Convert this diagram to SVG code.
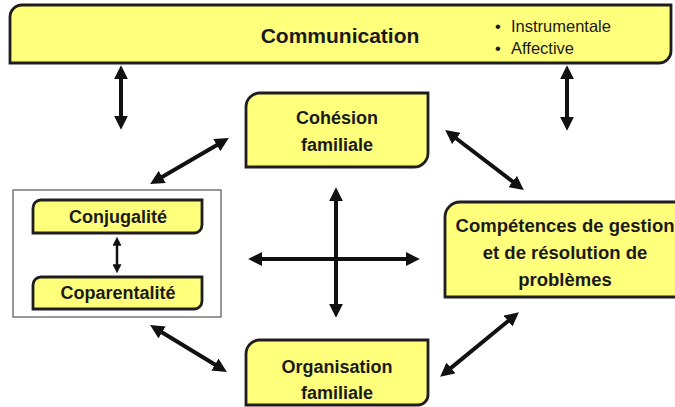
<svg xmlns="http://www.w3.org/2000/svg" width="675" height="407" viewBox="0 0 675 407">
<style>
.box{fill:#ffff7c;stroke:#1e1e1e;stroke-width:2.8}
.t{font-family:"Liberation Sans",Arial,sans-serif;font-weight:bold;fill:#1a1a1a;text-anchor:middle}
.b{font-family:"Liberation Sans",Arial,sans-serif;fill:#1a1a1a;font-size:16.5px}
.c line{stroke:#111;stroke-width:4;marker-start:url(#ah);marker-end:url(#ah)}
.c line.s{stroke-width:2.5;marker-start:url(#ahs);marker-end:url(#ahs)}
</style>
<defs>
<marker id="ah" viewBox="0 0 10 10" refX="3" refY="5" markerUnits="userSpaceOnUse" markerWidth="14" markerHeight="14" orient="auto-start-reverse"><path d="M0,0 L10,5 L0,10 z" fill="#111"/></marker>
<marker id="ahs" viewBox="0 0 10 10" refX="3" refY="5" markerUnits="userSpaceOnUse" markerWidth="9" markerHeight="9" orient="auto-start-reverse"><path d="M0,0 L10,5 L0,10 z" fill="#111"/></marker>
</defs>
<rect width="675" height="407" fill="#fff"/>
<g id="communication">
<path class="box" d="M22,5 H671 V51 A12,12 0 0 1 659,63 H10 V17 A12,12 0 0 1 22,5 Z"/>
<text class="t" x="340" y="43" font-size="21">Communication</text>
<text class="b" x="495" y="32">•</text>
<text class="b" x="511" y="32">Instrumentale</text>
<text class="b" x="495" y="54">•</text>
<text class="b" x="511" y="54">Affective</text>
</g>
<g id="cohesion">
<path class="box" d="M260,93 H428 V153 A14,14 0 0 1 414,167 H246 V107 A14,14 0 0 1 260,93 Z"/>
<text class="t" x="337" y="124" font-size="18">Cohésion</text>
<text class="t" x="337" y="151" font-size="18">familiale</text>
</g>
<g id="couple">
<rect x="13" y="190" width="208" height="127" fill="#fff" stroke="#555" stroke-width="1.2"/>
</g>
<g id="conjugalite">
<path class="box" d="M41,200 H202 V225 A8,8 0 0 1 194,233 H33 V208 A8,8 0 0 1 41,200 Z"/>
<text class="t" x="118" y="223" font-size="18">Conjugalité</text>
</g>
<g id="coparentalite">
<path class="box" d="M41,277 H202 V301 A8,8 0 0 1 194,309 H33 V285 A8,8 0 0 1 41,277 Z"/>
<text class="t" x="118" y="299" font-size="18">Coparentalité</text>
</g>
<g id="competences">
<path class="box" d="M460,202 H680 V297 H445 V217 A15,15 0 0 1 460,202 Z"/>
<text class="t" x="565" y="232" font-size="18.5">Compétences de gestion</text>
<text class="t" x="565" y="259" font-size="18.5">et de résolution de</text>
<text class="t" x="565" y="286" font-size="18.5">problèmes</text>
</g>
<g id="organisation">
<path class="box" d="M260,340 H428 V395 A10,10 0 0 1 418,405 H246 V354 A14,14 0 0 1 260,340 Z"/>
<text class="t" x="337" y="373" font-size="18">Organisation</text>
<text class="t" x="337" y="399" font-size="18">familiale</text>
</g>
<g id="connectors" class="c">
<line x1="121" y1="75" x2="121" y2="120"/>
<line x1="567" y1="75" x2="567" y2="121"/>
<line x1="336" y1="197" x2="336" y2="308"/>
<line x1="258" y1="259" x2="410" y2="259"/>
<line class="s" x1="117" y1="243" x2="117" y2="267"/>
<line x1="158.6" y1="179" x2="220.4" y2="143"/>
<line x1="453" y1="136" x2="516" y2="184"/>
<line x1="158.5" y1="330.2" x2="218.5" y2="366.8"/>
<line x1="447.7" y1="370.6" x2="511.3" y2="318.4"/>
</g>
</svg>
